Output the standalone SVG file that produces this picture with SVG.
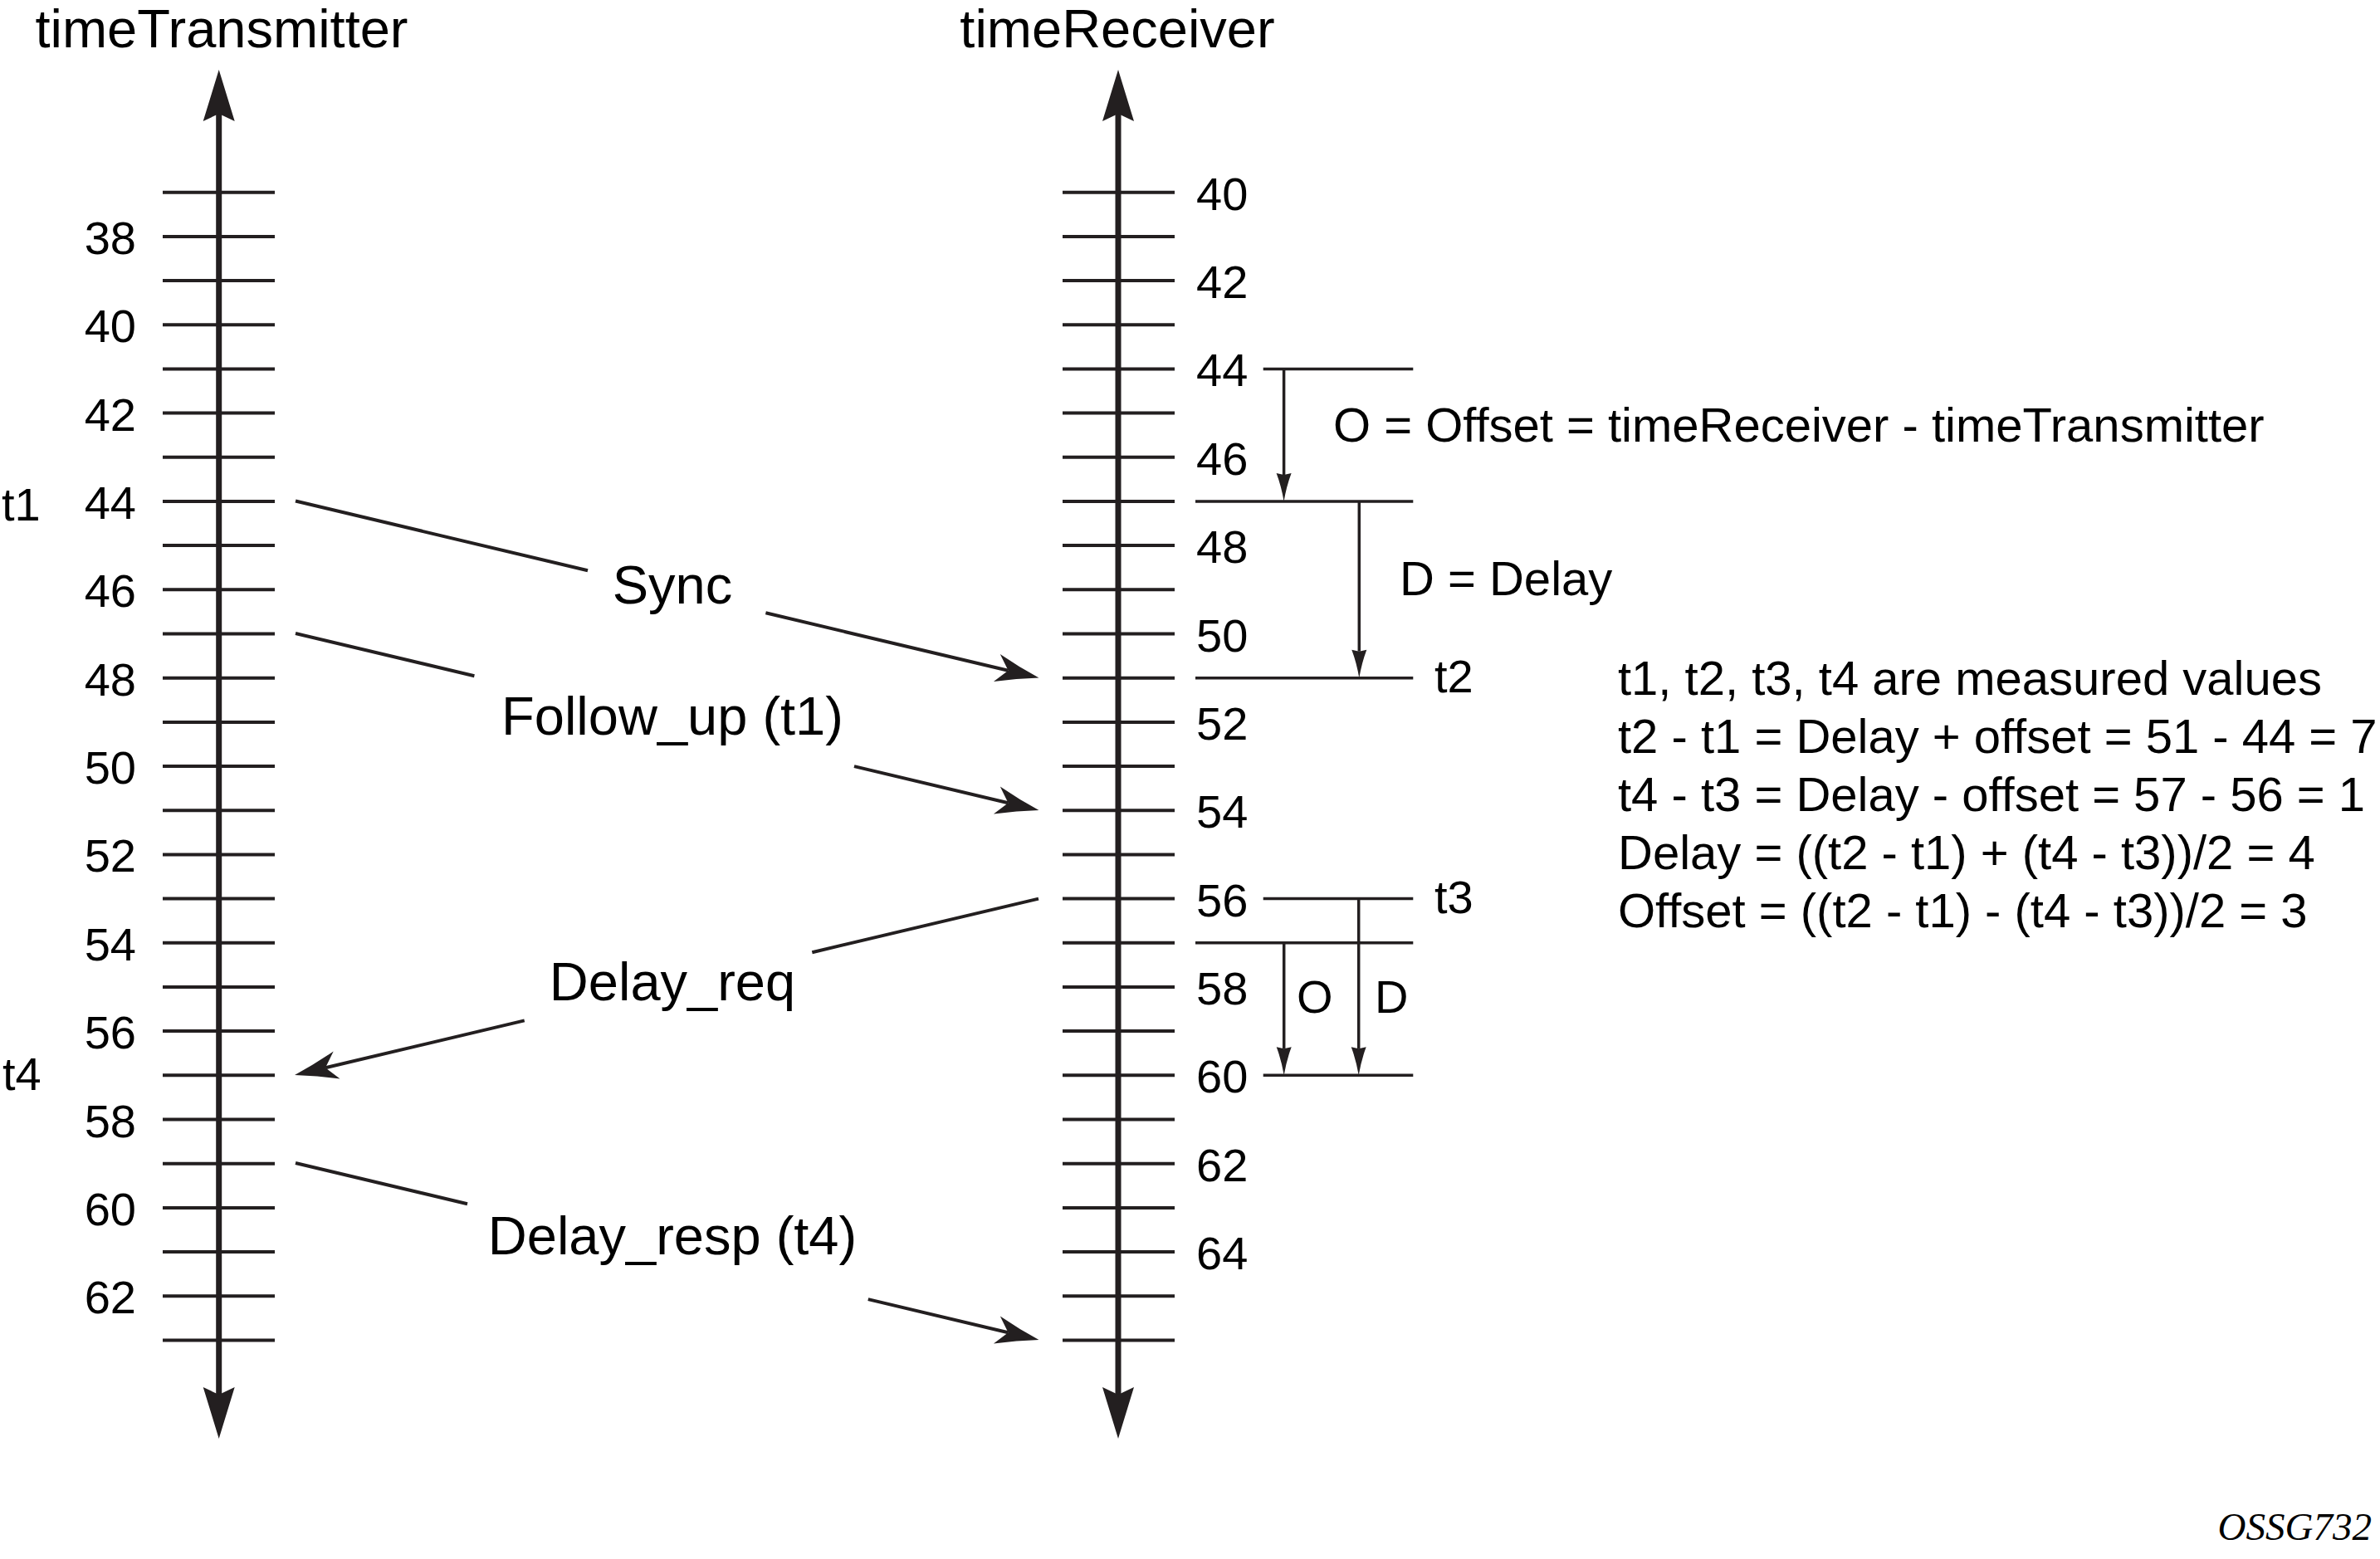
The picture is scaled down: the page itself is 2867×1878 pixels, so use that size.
<svg xmlns="http://www.w3.org/2000/svg" width="2867" height="1878" viewBox="0 0 2867 1878">
<style>
text{font-family:"Liberation Sans",Arial,sans-serif;fill:#000}
.title{font-size:65px;text-anchor:middle}
.msg{font-size:65px;text-anchor:middle}
.num{font-size:56px}
.numL{font-size:56px;text-anchor:end}
.note{font-size:58px}
.axis{stroke:#231f20;stroke-width:7;fill:none}
.tick{stroke:#231f20;stroke-width:4;fill:none}
.conn{stroke:#231f20;stroke-width:4;fill:none}
.ann{stroke:#231f20;stroke-width:3.5;fill:none}
.head{fill:#231f20;stroke:none}
.foot{font-family:"Liberation Serif","Times New Roman",serif;font-style:italic;font-size:47px;text-anchor:end}
</style>
<defs>
<marker id="axisHead" markerUnits="userSpaceOnUse" orient="auto-start-reverse" refX="0" refY="0" markerWidth="80" markerHeight="80" overflow="visible">
<path class="head" d="M53,0 L-9,-19 L0,0 L-9,19 Z"/>
</marker>
<marker id="msgHead" markerUnits="userSpaceOnUse" orient="auto" refX="0" refY="0" markerWidth="80" markerHeight="80" overflow="visible">
<path class="head" d="M38,0 Q12,-7 -14,-17 L0,0 L-14,17 Q12,7 38,0 Z"/>
</marker>
<marker id="annHead" markerUnits="userSpaceOnUse" orient="auto" refX="0" refY="0" markerWidth="60" markerHeight="60" overflow="visible">
<path class="head" d="M32,0 Q14,-3 -2,-9 L0,0 L-2,9 Q14,3 32,0 Z"/>
</marker>
</defs>

<g id="timeTransmitter">
<text class="title" x="267" y="57">timeTransmitter</text>
<line class="axis" x1="263.7" y1="1680" x2="263.7" y2="137" marker-start="url(#axisHead)" marker-end="url(#axisHead)"/>
<path class="tick" d="M196,231.7H331M196,284.9H331M196,338.1H331M196,391.2H331M196,444.4H331M196,497.6H331M196,550.8H331M196,604H331M196,657.1H331M196,710.3H331M196,763.5H331M196,816.7H331M196,869.9H331M196,923H331M196,976.2H331M196,1029.4H331M196,1082.6H331M196,1135.8H331M196,1189H331M196,1242.1H331M196,1295.3H331M196,1348.5H331M196,1401.7H331M196,1454.9H331M196,1508H331M196,1561.2H331M196,1614.4H331"/>
<text class="numL" x="164" y="305.9">38</text>
<text class="numL" x="164" y="412.2">40</text>
<text class="numL" x="164" y="518.6">42</text>
<text class="numL" x="164" y="625">44</text>
<text class="numL" x="164" y="731.3">46</text>
<text class="numL" x="164" y="837.7">48</text>
<text class="numL" x="164" y="944">50</text>
<text class="numL" x="164" y="1050.4">52</text>
<text class="numL" x="164" y="1156.8">54</text>
<text class="numL" x="164" y="1263.1">56</text>
<text class="numL" x="164" y="1369.5">58</text>
<text class="numL" x="164" y="1475.9">60</text>
<text class="numL" x="164" y="1582.2">62</text>
<text class="num" x="2" y="627">t1</text>
<text class="num" x="3" y="1313">t4</text>
</g>

<g id="timeReceiver">
<text class="title" x="1346" y="57">timeReceiver</text>
<line class="axis" x1="1347" y1="1680" x2="1347" y2="137" marker-start="url(#axisHead)" marker-end="url(#axisHead)"/>
<path class="tick" d="M1280,231.7H1415M1280,284.9H1415M1280,338.1H1415M1280,391.2H1415M1280,444.4H1415M1280,497.6H1415M1280,550.8H1415M1280,604H1415M1280,657.1H1415M1280,710.3H1415M1280,763.5H1415M1280,816.7H1415M1280,869.9H1415M1280,923H1415M1280,976.2H1415M1280,1029.4H1415M1280,1082.6H1415M1280,1135.8H1415M1280,1189H1415M1280,1242.1H1415M1280,1295.3H1415M1280,1348.5H1415M1280,1401.7H1415M1280,1454.9H1415M1280,1508H1415M1280,1561.2H1415M1280,1614.4H1415"/>
<text class="num" x="1441" y="252.7">40</text>
<text class="num" x="1441" y="359.1">42</text>
<text class="num" x="1441" y="465.4">44</text>
<text class="num" x="1441" y="571.8">46</text>
<text class="num" x="1441" y="678.1">48</text>
<text class="num" x="1441" y="784.5">50</text>
<text class="num" x="1441" y="890.9">52</text>
<text class="num" x="1441" y="997.2">54</text>
<text class="num" x="1441" y="1103.6">56</text>
<text class="num" x="1441" y="1210">58</text>
<text class="num" x="1441" y="1316.3">60</text>
<text class="num" x="1441" y="1422.7">62</text>
<text class="num" x="1441" y="1529">64</text>
</g>

<g id="connectors">
<line class="conn" x1="356" y1="603.5" x2="708" y2="687.3"/>
<line class="conn" x1="922.4" y1="738.3" x2="1214.5" y2="807.8" marker-end="url(#msgHead)"/>
<line class="conn" x1="356" y1="763" x2="571.4" y2="814.2"/>
<line class="conn" x1="1029" y1="923.1" x2="1214.5" y2="967.2" marker-end="url(#msgHead)"/>
<line class="conn" x1="1251" y1="1082.6" x2="978.3" y2="1147.2"/>
<line class="conn" x1="631.7" y1="1229.4" x2="392" y2="1286.2" marker-end="url(#msgHead)"/>
<line class="conn" x1="356" y1="1401" x2="563" y2="1450.2"/>
<line class="conn" x1="1045.8" y1="1565.1" x2="1214.5" y2="1605.2" marker-end="url(#msgHead)"/>
</g>

<g id="labels">
<text class="msg" x="810" y="727">Sync</text>
<text class="msg" x="810" y="885">Follow_up (t1)</text>
<text class="msg" x="810" y="1205">Delay_req</text>
<text class="msg" x="810" y="1511">Delay_resp (t4)</text>
</g>

<g id="annotations">
<path class="ann" d="M1521.7,444.4H1702.3M1440,604H1702.3M1440,816.7H1702.3M1521.7,1082.6H1702.3M1440,1135.8H1702.3M1521.7,1295.3H1702.3"/>
<line class="ann" x1="1546.6" y1="444.4" x2="1546.6" y2="572" marker-end="url(#annHead)"/>
<line class="ann" x1="1637.3" y1="604" x2="1637.3" y2="784.7" marker-end="url(#annHead)"/>
<line class="ann" x1="1636.7" y1="1082.6" x2="1636.7" y2="1263.3" marker-end="url(#annHead)"/>
<line class="ann" x1="1546.7" y1="1135.8" x2="1546.7" y2="1263.3" marker-end="url(#annHead)"/>
<text class="note" x="1606" y="532">O = Offset = timeReceiver - timeTransmitter</text>
<text class="note" x="1686" y="717">D = Delay</text>
<text class="num" x="1728" y="834">t2</text>
<text class="num" x="1728" y="1100">t3</text>
<text class="num" x="1562" y="1220">O</text>
<text class="num" x="1656" y="1220">D</text>
</g>

<g id="formulas">
<text class="note" x="1949" y="837">t1, t2, t3, t4 are measured values</text>
<text class="note" x="1949" y="907">t2 - t1 = Delay + offset = 51 - 44 = 7</text>
<text class="note" x="1949" y="977">t4 - t3 = Delay - offset = 57 - 56 = 1</text>
<text class="note" x="1949" y="1047">Delay = ((t2 - t1) + (t4 - t3))/2 = 4</text>
<text class="note" x="1949" y="1117">Offset = ((t2 - t1) - (t4 - t3))/2 = 3</text>
</g>

<text class="foot" x="2857" y="1855">OSSG732</text>
</svg>
